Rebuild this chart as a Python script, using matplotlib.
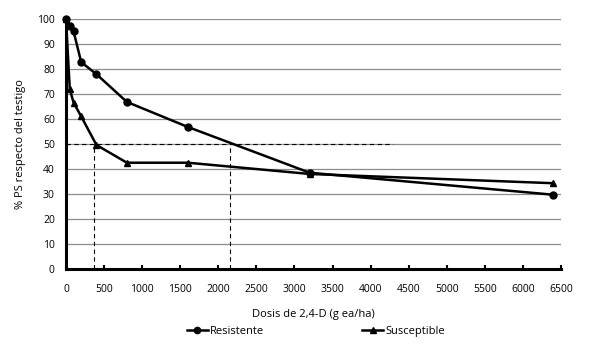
import matplotlib
matplotlib.use("Agg")
import matplotlib.pyplot as plt
from matplotlib.lines import Line2D

plt.rcParams['font.family'] = ['Open Sans', 'DejaVu Sans']

doses = [0, 50, 100, 200, 400, 800, 1600, 3200, 6400]
resistente = [100, 97.3, 95, 82.7, 77.9, 66.8, 56.8, 38.5, 29.7]
susceptible = [100, 71.9, 66.5, 61, 49.6, 42.5, 42.5, 38, 34.3]
ref_y = 50
ref_x_end = 4300
gr50_s = 370
gr50_r = 2160
xticks = list(range(0, 6501, 500))
yticks = list(range(0, 101, 10))

fig = plt.figure(figsize=(5.96, 3.64), dpi=100)
ax = fig.add_axes([0.1107, 0.261, 0.8305, 0.687])

for y in yticks[1:]:
    ax.axhline(y, color='#8c8c8c', lw=0.9, zorder=0)

ax.plot([0, ref_x_end], [ref_y, ref_y], color='black', lw=0.8, ls=(0, (4, 3)), zorder=1)
ax.plot([gr50_s, gr50_s], [0, ref_y], color='black', lw=0.8, ls=(0, (4, 3)), zorder=1)
ax.plot([gr50_r, gr50_r], [0, ref_y], color='black', lw=0.8, ls=(0, (4, 3)), zorder=1)

ax.plot(doses, resistente, color='black', lw=1.8, marker='o', ms=5, zorder=3, clip_on=False)
ax.plot(doses, susceptible, color='black', lw=1.8, marker='^', ms=5, zorder=3, clip_on=False)

ax.set_xlim(0, 6500)
ax.set_ylim(0, 100)
ax.set_xticks(xticks)
ax.set_yticks(yticks)
ax.tick_params(axis='x', direction='in', length=3, width=1.5, pad=11, labelsize=7.5)
ax.tick_params(axis='y', length=0, pad=8, labelsize=7.5)
for s in ['top', 'right']:
    ax.spines[s].set_visible(False)
for s in ['left', 'bottom']:
    ax.spines[s].set_linewidth(2.2)
    ax.spines[s].set_zorder(4)

ax.set_xlabel('Dosis de 2,4-D (g ea/ha)', fontsize=8, labelpad=10)
ax.set_ylabel('% PS respecto del testigo', fontsize=8, labelpad=8)

handles = [Line2D([], [], color='black', lw=1.8, marker='o', ms=4.5),
           Line2D([], [], color='black', lw=1.8, marker='^', ms=4.5)]
fig.legend(handles, ['Resistente', 'Susceptible'], loc='center', bbox_to_anchor=(0.53, 0.09),
           ncol=2, frameon=False, fontsize=8, handlelength=1.9, handletextpad=0.2,
           columnspacing=8.8)

fig.savefig('out.png', dpi=100)
